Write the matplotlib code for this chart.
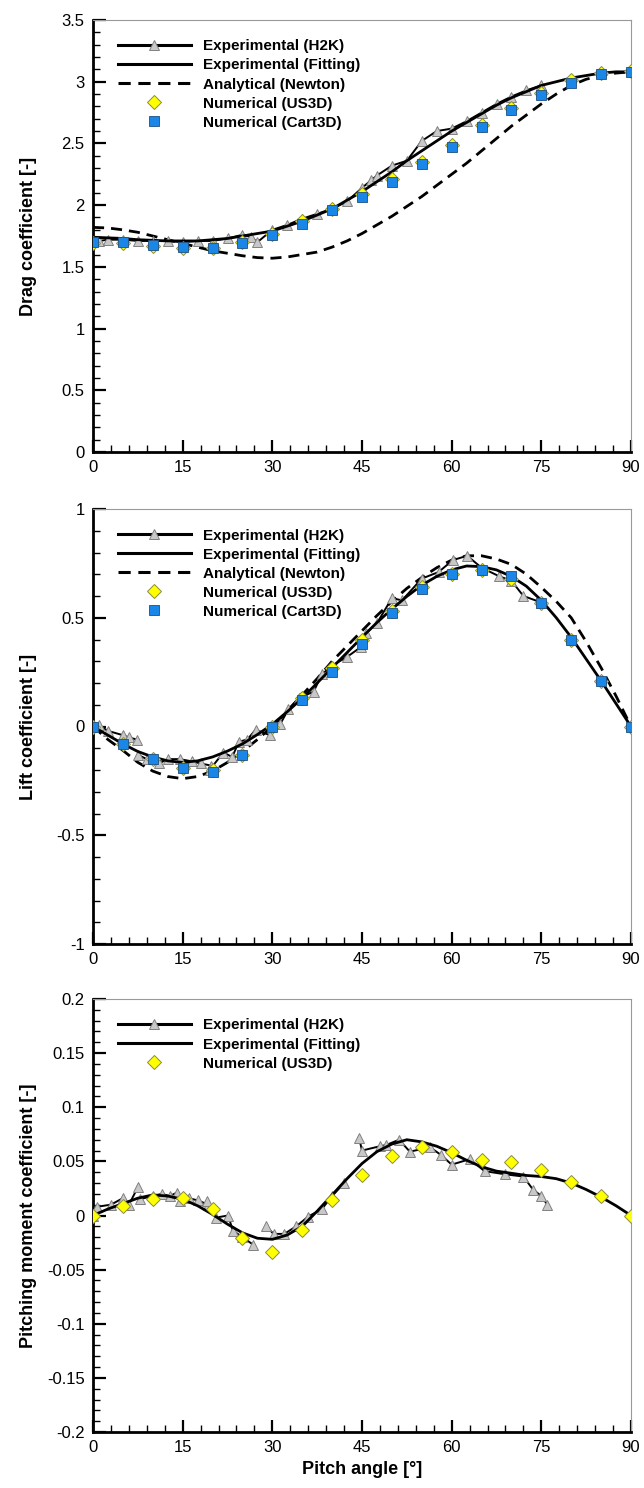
import numpy as np
import matplotlib
matplotlib.use("Agg")
import matplotlib.pyplot as plt
from matplotlib.ticker import MultipleLocator, FuncFormatter

plt.rcParams['font.family'] = ['Liberation Sans', 'DejaVu Sans']
plt.rcParams['axes.unicode_minus'] = False

# ---------------- data ----------------
ang5 = [0, 5, 10, 15, 20, 25, 30, 35, 40, 45, 50, 55, 60, 65, 70, 75, 80, 85, 90]
ang25 = [0, 2.5, 5, 7.5, 10, 12.5, 15, 17.5, 20, 22.5, 25, 27.5, 30, 32.5, 35, 37.5,
         40, 42.5, 45, 47.5, 50, 52.5, 55, 57.5, 60, 62.5, 65, 67.5, 70, 72.5, 75,
         77.5, 80, 82.5, 85, 87.5, 90]

# Drag
drag_fit = [1.74, 1.735, 1.73, 1.72, 1.715, 1.71, 1.71, 1.71, 1.72, 1.73, 1.75, 1.77,
            1.79, 1.83, 1.87, 1.92, 1.97, 2.04, 2.11, 2.19, 2.27, 2.36, 2.44, 2.52,
            2.60, 2.67, 2.74, 2.81, 2.87, 2.92, 2.97, 3.00, 3.03, 3.05, 3.07, 3.08, 3.08]
drag_newton = [1.82, 1.815, 1.80, 1.78, 1.75, 1.72, 1.69, 1.66, 1.63, 1.61, 1.59, 1.575,
               1.57, 1.58, 1.60, 1.62, 1.66, 1.71, 1.77, 1.84, 1.91, 1.99, 2.07, 2.16,
               2.25, 2.34, 2.44, 2.54, 2.64, 2.73, 2.82, 2.90, 2.97, 3.02, 3.05, 3.07, 3.08]
drag_us3d = [1.69, 1.69, 1.67, 1.65, 1.65, 1.70, 1.77, 1.87, 1.97, 2.09, 2.21, 2.35,
             2.49, 2.65, 2.79, 2.91, 3.01, 3.07, 3.09]
drag_cart3d = [1.70, 1.70, 1.68, 1.66, 1.65, 1.69, 1.76, 1.85, 1.96, 2.07, 2.19, 2.33,
               2.47, 2.63, 2.77, 2.89, 2.99, 3.06, 3.08]
drag_h2k_ang = [0, 1, 2.5, 5, 7.5, 10, 12.5, 15, 17.5, 20, 22.5, 25, 26.5, 27.5, 30,
                32.5, 35, 37.5, 40, 42.5, 45, 46.5, 47.5, 50, 52.5, 55, 57.5, 60, 62.5,
                65, 67.5, 70, 72.5, 75]
drag_h2k = [1.71, 1.71, 1.72, 1.72, 1.71, 1.71, 1.71, 1.70, 1.71, 1.71, 1.73, 1.76,
            1.74, 1.70, 1.80, 1.84, 1.89, 1.93, 1.97, 2.03, 2.14, 2.20, 2.24, 2.32,
            2.36, 2.52, 2.60, 2.62, 2.68, 2.75, 2.82, 2.88, 2.93, 2.97]

# Lift
lift_fit = [0, -0.04, -0.08, -0.115, -0.14, -0.158, -0.165, -0.158, -0.14, -0.113,
            -0.08, -0.037, 0.01, 0.068, 0.13, 0.20, 0.27, 0.34, 0.41, 0.478, 0.54,
            0.598, 0.65, 0.69, 0.72, 0.738, 0.735, 0.72, 0.69, 0.645, 0.58, 0.50,
            0.41, 0.31, 0.21, 0.105, 0]
lift_newton = [0, -0.06, -0.11, -0.165, -0.205, -0.23, -0.24, -0.23, -0.205, -0.165,
               -0.115, -0.06, 0.0, 0.07, 0.145, 0.22, 0.30, 0.37, 0.44, 0.51, 0.575,
               0.635, 0.685, 0.73, 0.765, 0.785, 0.785, 0.77, 0.745, 0.70, 0.64,
               0.575, 0.50, 0.39, 0.27, 0.14, 0]
lift_us3d = [0, -0.08, -0.15, -0.19, -0.20, -0.13, 0.0, 0.13, 0.27, 0.40, 0.53, 0.64,
             0.70, 0.72, 0.68, 0.57, 0.40, 0.21, 0]
lift_cart3d = [0, -0.08, -0.15, -0.19, -0.21, -0.13, 0.0, 0.12, 0.25, 0.38, 0.52, 0.63,
               0.70, 0.72, 0.69, 0.57, 0.40, 0.21, 0]
lift_h2k_runs = [
    ([0, 1, 2.5, 5, 6, 7.3], [0, 0.005, -0.02, -0.04, -0.05, -0.06]),
    ([7.5, 9, 11, 12.5, 14.5, 16.5, 18, 19.8],
     [-0.13, -0.15, -0.17, -0.15, -0.15, -0.16, -0.17, -0.18]),
    ([19.5, 21.8, 23.3, 24.4, 25.8, 27.2, 29.6, 31.3, 32.7, 34.4, 36.9, 38.3, 40,
      42.5, 44.8, 45.7, 47.5, 50, 51.7, 55, 57.8, 60.2, 62.6, 65, 68, 70, 72, 75],
     [-0.20, -0.12, -0.14, -0.07, -0.06, -0.015, -0.04, 0.01, 0.08, 0.13, 0.16, 0.24,
      0.28, 0.32, 0.365, 0.43, 0.475, 0.59, 0.58, 0.68, 0.71, 0.765, 0.785, 0.73,
      0.69, 0.67, 0.60, 0.57]),
]

# Pitching moment
mom_fit = [0, 0.006, 0.011, 0.016, 0.019, 0.018, 0.015, 0.009, 0.001, -0.008, -0.016,
           -0.021, -0.022, -0.018, -0.010, 0.004, 0.019, 0.034, 0.048, 0.059, 0.066,
           0.070, 0.068, 0.064, 0.058, 0.051, 0.045, 0.041, 0.039, 0.037, 0.036,
           0.034, 0.030, 0.024, 0.017, 0.009, 0]
mom_us3d = [0, 0.009, 0.015, 0.016, 0.006, -0.021, -0.034, -0.013, 0.014, 0.037, 0.055,
            0.063, 0.059, 0.051, 0.049, 0.042, 0.031, 0.018, 0]
mom_h2k_runs = [
    ([0, 0.6, 3, 5, 6, 7.5], [0.0, 0.008, 0.010, 0.016, 0.010, 0.026]),
    ([7.8, 10, 11.5, 12.8, 14, 14.6, 16, 17.5, 19.3],
     [0.015, 0.018, 0.020, 0.018, 0.021, 0.013, 0.016, 0.014, 0.010]),
    ([19, 20.5, 22.6, 23.4, 25, 26.8], [0.013, -0.002, 0.000, -0.014, -0.020, -0.027]),
    ([29, 30.2, 32, 34, 36, 38.3, 40, 42],
     [-0.010, -0.017, -0.017, -0.010, -0.001, 0.006, 0.018, 0.030]),
    ([44.5, 45, 48, 49, 51.2, 53, 56.4, 58.2, 60, 63, 65.5, 69, 72, 73.6, 75, 76],
     [0.072, 0.060, 0.064, 0.065, 0.070, 0.059, 0.063, 0.056, 0.047, 0.052, 0.041,
      0.038, 0.036, 0.024, 0.018, 0.010]),
]

# ---------------- styling ----------------
W, H = 644, 1488
fig = plt.figure(figsize=(W / 100, H / 100), dpi=100)

left = 93 / W
width = (631 - 93) / W
panels = [(20, 452), (509, 944), (999, 1432)]

tri_kw = dict(color='black', lw=1.4, marker='^', markersize=7,
              markerfacecolor='#c8c8c8', markeredgecolor='#808080', markeredgewidth=0.7)
fit_kw = dict(color='black', lw=2.0)
newt_kw = dict(color='black', lw=2.0, ls=(0, (4, 2.5)))
dia_kw = dict(ls='none', marker='D', markersize=7, markerfacecolor='#ffff00',
              markeredgecolor='#8c8c3c', markeredgewidth=0.7)
sq_kw = dict(ls='none', marker='s', markersize=7.5, markerfacecolor='#1a86e8',
             markeredgecolor='#1f4f80', markeredgewidth=0.6)


def yfmt(v, p):
    if abs(v) < 1e-9:
        return '0'
    return '%g' % round(v, 4)


def style_axes(ax, ylim, ymaj, ymin, ylabel):
    ax.set_xlim(0, 90)
    ax.set_ylim(*ylim)
    ax.xaxis.set_major_locator(MultipleLocator(15))
    ax.xaxis.set_minor_locator(MultipleLocator(3))
    ax.yaxis.set_major_locator(MultipleLocator(ymaj))
    ax.yaxis.set_minor_locator(MultipleLocator(ymin))
    ax.yaxis.set_major_formatter(FuncFormatter(yfmt))
    ax.xaxis.set_major_formatter(FuncFormatter(lambda v, p: '%g' % v))
    ax.tick_params(which='both', direction='in', top=False, right=False,
                   labelsize=12, colors='black')
    ax.tick_params(which='major', length=9, width=1.6, pad=6)
    ax.tick_params(which='minor', length=5, width=1.0)
    for s in ('left', 'bottom'):
        ax.spines[s].set_linewidth(2.0)
        ax.spines[s].set_color('black')
    for s in ('top', 'right'):
        ax.spines[s].set_linewidth(0.8)
        ax.spines[s].set_color('#999999')
    ax.set_ylabel(ylabel, fontsize=13, fontweight='bold')
    ax.yaxis.set_label_coords(-0.105, 0.5)


def add_legend(ax):
    leg = ax.legend(loc='upper left', bbox_to_anchor=(0.046, 0.955), frameon=False,
                    borderpad=0, borderaxespad=0, handlelength=4.8, handletextpad=0.75,
                    labelspacing=0.33, numpoints=1, prop=dict(size=11, weight='bold'))
    for ln in leg.get_lines():
        ln.set_linewidth(2.2)


# Drag panel
t, b = panels[0]
ax1 = fig.add_axes([left, 1 - b / H, width, (b - t) / H])
ax1.plot(drag_h2k_ang, drag_h2k, label='Experimental (H2K)', zorder=3, **tri_kw)
ax1.plot(ang25, drag_fit, label='Experimental (Fitting)', zorder=4, **fit_kw)
ax1.plot(ang25, drag_newton, label='Analytical (Newton)', zorder=2, **newt_kw)
ax1.plot(ang5, drag_us3d, label='Numerical (US3D)', zorder=5, **dia_kw)
ax1.plot(ang5, drag_cart3d, label='Numerical (Cart3D)', zorder=6, **sq_kw)
style_axes(ax1, (0, 3.5), 0.5, 0.1, 'Drag coefficient [-]')
add_legend(ax1)

# Lift panel
t, b = panels[1]
ax2 = fig.add_axes([left, 1 - b / H, width, (b - t) / H])
for i, (xa, ya) in enumerate(lift_h2k_runs):
    ax2.plot(xa, ya, label='Experimental (H2K)' if i == 0 else None, zorder=3, **tri_kw)
ax2.plot(ang25, lift_fit, label='Experimental (Fitting)', zorder=4, **fit_kw)
ax2.plot(ang25, lift_newton, label='Analytical (Newton)', zorder=2, **newt_kw)
ax2.plot(ang5, lift_us3d, label='Numerical (US3D)', zorder=5, **dia_kw)
ax2.plot(ang5, lift_cart3d, label='Numerical (Cart3D)', zorder=6, **sq_kw)
style_axes(ax2, (-1, 1), 0.5, 0.1, 'Lift coefficient [-]')
add_legend(ax2)

# Pitching moment panel
t, b = panels[2]
ax3 = fig.add_axes([left, 1 - b / H, width, (b - t) / H])
for i, (xa, ya) in enumerate(mom_h2k_runs):
    ax3.plot(xa, ya, label='Experimental (H2K)' if i == 0 else None, zorder=3, **tri_kw)
ax3.plot(ang25, mom_fit, label='Experimental (Fitting)', zorder=4, **fit_kw)
ax3.plot(ang5, mom_us3d, label='Numerical (US3D)', zorder=5, **dia_kw)
style_axes(ax3, (-0.2, 0.2), 0.05, 0.01, 'Pitching moment coefficient [-]')
ax3.set_xlabel('Pitch angle [°]', fontsize=13, fontweight='bold', labelpad=4)
add_legend(ax3)

fig.savefig('out.png', dpi=100)
